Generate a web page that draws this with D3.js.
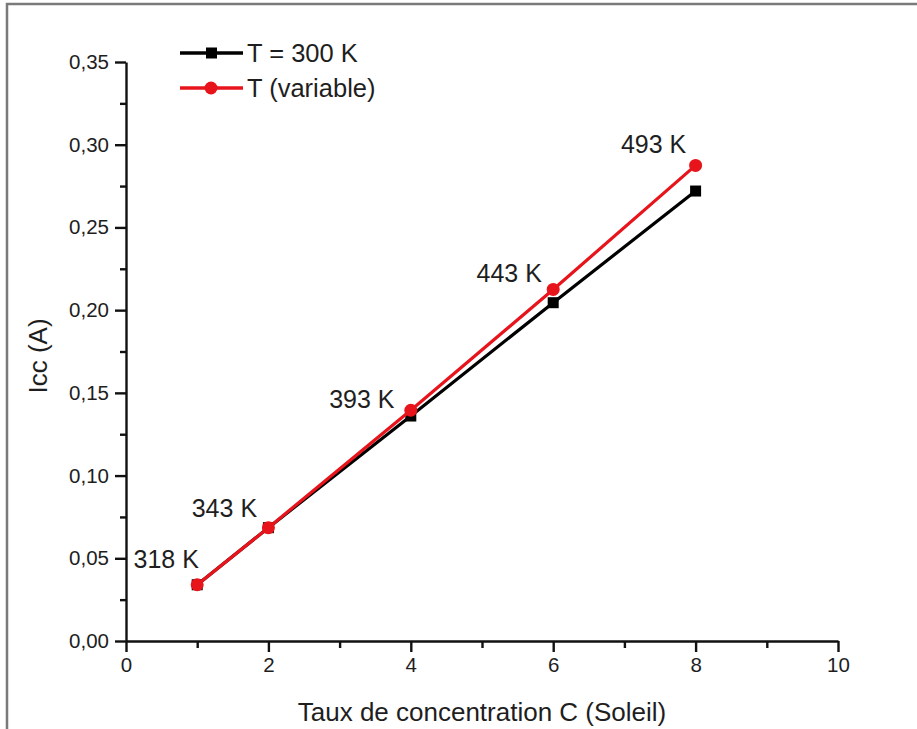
<!DOCTYPE html>
<html>
<head>
<meta charset="utf-8">
<script src="https://cdn.jsdelivr.net/npm/d3@7"></script>
<style>
  html, body { margin: 0; padding: 0; background: #fff; }
  svg { display: block; font-family: "Liberation Sans", Arial, sans-serif; }
</style>
</head>
<body>
<svg id="chart" width="917" height="729"></svg>
<script>
const concentration = [1, 2, 4, 6, 8];
const icc300K = [0.0340, 0.0685, 0.1360, 0.2045, 0.2720];
const iccVariable = [0.0340, 0.0685, 0.1395, 0.2125, 0.2875];
const tempLabels = ["318 K", "343 K", "393 K", "443 K", "493 K"];
const xTicks = [0, 2, 4, 6, 8, 10];
const yTicks = [0, 0.05, 0.10, 0.15, 0.20, 0.25, 0.30, 0.35];
const seriesNames = ["T = 300 K", "T (variable)"];

const svg = d3.select("#chart");
const fmt = v => d3.format(".2f")(v).replace(".", ",");
const textColor = "#1e1e1e";

// frame
svg.append("path")
  .attr("d", "M7,729 L7,4 L917,4")
  .attr("fill", "none").attr("stroke", "#7a7a7a").attr("stroke-width", 2.5);

const x = d3.scaleLinear().domain([0, 10]).range([126, 838]);
const y = d3.scaleLinear().domain([0, 0.35]).range([641, 62]);

// x axis
const xAxis = svg.append("g").attr("transform", `translate(0,${y(0)})`)
  .call(d3.axisBottom(x).tickValues(xTicks).tickFormat(d3.format("d")).tickSize(11).tickSizeOuter(0));
svg.append("g").attr("transform", `translate(0,${y(0)})`)
  .call(d3.axisBottom(x).tickValues(d3.range(1, 10, 2)).tickFormat("").tickSize(7).tickSizeOuter(0))
  .select(".domain").remove();

// y axis
const yAxis = svg.append("g").attr("transform", `translate(${x(0)},0)`)
  .call(d3.axisLeft(y).tickValues(yTicks).tickFormat(fmt).tickSize(11).tickSizeOuter(0));
svg.append("g").attr("transform", `translate(${x(0)},0)`)
  .call(d3.axisLeft(y).tickValues(d3.range(0.025, 0.35, 0.05)).tickFormat("").tickSize(6).tickSizeOuter(0))
  .select(".domain").remove();

svg.selectAll(".domain").attr("stroke", "#111").attr("stroke-width", 2.4);
svg.selectAll(".tick line").attr("stroke", "#111").attr("stroke-width", 2.4);
xAxis.selectAll(".tick text").attr("font-size", 20.5).attr("fill", textColor).attr("y", 16).attr("dy", "0.71em");
yAxis.selectAll(".tick text").attr("font-size", 20.5).attr("fill", textColor).attr("x", -17);

// axis titles
svg.append("text").attr("x", 482).attr("y", 721).attr("text-anchor", "middle")
  .attr("font-size", 26).attr("fill", textColor).text("Taux de concentration C (Soleil)");
svg.append("text").attr("transform", `translate(47,356) rotate(-90)`)
  .attr("text-anchor", "middle").attr("font-size", 26).attr("fill", textColor).text("Icc (A)");

const line = d3.line().x(d => x(d[0])).y(d => y(d[1]));
const blackData = concentration.map((c, i) => [c, icc300K[i]]);
const redData = concentration.map((c, i) => [c, iccVariable[i]]);

// black series
svg.append("path").datum(blackData).attr("d", line)
  .attr("fill", "none").attr("stroke", "#000").attr("stroke-width", 3.2);
svg.selectAll(".sq").data(blackData).enter().append("rect")
  .attr("x", d => x(d[0]) - 5.5).attr("y", d => y(d[1]) - 5.5)
  .attr("width", 11).attr("height", 11).attr("fill", "#000");

// red series
svg.append("path").datum(redData).attr("d", line)
  .attr("fill", "none").attr("stroke", "#e8141b").attr("stroke-width", 3.2);
svg.selectAll(".ci").data(redData).enter().append("circle")
  .attr("cx", d => x(d[0])).attr("cy", d => y(d[1])).attr("r", 6.5).attr("fill", "#e8141b");

// temperature labels
const labelOffsets = [[-31, -17], [-44, -11], [-49, -2], [-44, -7], [-42, -12]];
svg.selectAll(".tl").data(redData).enter().append("text")
  .attr("x", (d, i) => x(d[0]) + labelOffsets[i][0])
  .attr("y", (d, i) => y(d[1]) + labelOffsets[i][1])
  .attr("text-anchor", "middle").attr("font-size", 25).attr("fill", textColor)
  .text((d, i) => tempLabels[i]);

// legend
const legend = [
  { name: seriesNames[0], color: "#000", shape: "square", y: 53 },
  { name: seriesNames[1], color: "#e8141b", shape: "circle", y: 88 }
];
legend.forEach(l => {
  svg.append("line").attr("x1", 180).attr("x2", 243).attr("y1", l.y).attr("y2", l.y)
    .attr("stroke", l.color).attr("stroke-width", 3.5);
  if (l.shape === "square") {
    svg.append("rect").attr("x", 206).attr("y", l.y - 5.5).attr("width", 11).attr("height", 11).attr("fill", l.color);
  } else {
    svg.append("circle").attr("cx", 211).attr("cy", l.y).attr("r", 6.5).attr("fill", l.color);
  }
  svg.append("text").attr("x", 247).attr("y", l.y + 9).attr("font-size", 25.5).attr("fill", textColor).text(l.name);
});
</script>
</body>
</html>
